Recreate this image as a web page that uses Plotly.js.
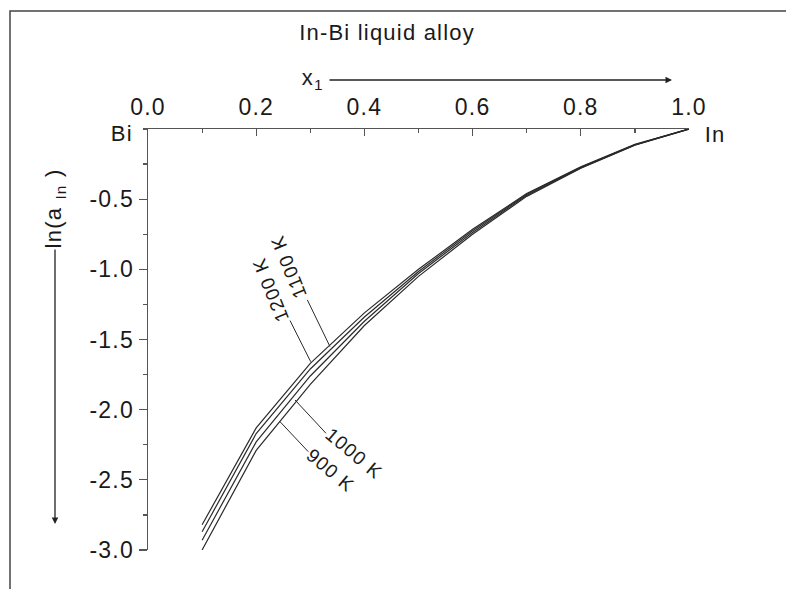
<!DOCTYPE html>
<html>
<head>
<meta charset="utf-8">
<script src="https://cdn.plot.ly/plotly-3.0.1.min.js"></script>
<style>
html,body{margin:0;padding:0;background:#fff;}
#chart{width:786px;height:589px;}
#chart text{letter-spacing:1.2px;}
</style>
</head>
<body>
<div id="chart"></div>
<script>
// Data
var xIn = [0.1, 0.2, 0.3, 0.4, 0.5, 0.6, 0.7, 0.8, 0.9, 1.0];
var lnA_1200K = [-2.82, -2.13, -1.67, -1.31, -1.000, -0.715, -0.460, -0.270, -0.110, 0];
var lnA_1100K = [-2.87, -2.17, -1.71, -1.34, -1.015, -0.725, -0.465, -0.273, -0.112, 0];
var lnA_1000K = [-2.93, -2.23, -1.76, -1.37, -1.030, -0.737, -0.472, -0.277, -0.113, 0];
var lnA_900K  = [-3.00, -2.29, -1.82, -1.40, -1.050, -0.750, -0.480, -0.280, -0.115, 0];
var seriesNames = ['1200 K', '1100 K', '1000 K', '900 K'];
var xTickVals = [0, 0.2, 0.4, 0.6, 0.8, 1.0];
var xTickText = ['0.0', '0.2', '0.4', '0.6', '0.8', '1.0'];
var yTickVals = [-3.0, -2.5, -2.0, -1.5, -1.0, -0.5];
var yTickText = ['-3.0', '-2.5', '-2.0', '-1.5', '-1.0', '-0.5'];
var chartTitle = 'In-Bi liquid alloy';

var FONT = 'Liberation Sans, Arial, sans-serif';
var INK = '#1a1a1a';
var AX = '#555555';

var seriesY = [lnA_1200K, lnA_1100K, lnA_1000K, lnA_900K];
var traces = seriesY.map(function (ys, i) {
  return {
    type: 'scatter', mode: 'lines', name: seriesNames[i],
    x: xIn, y: ys,
    line: {color: '#2a2a2a', width: 1.2},
    hoverinfo: 'skip', showlegend: false, cliponaxis: false
  };
});

// pixel -> paper helpers (plot area: x 148..689, y 129..550)
function px(p) { return (p - 148) / 541; }
function py(p) { return (550 - p) / 421; }

// label annotations + leader lines (data coordinates)
var labelDefs = [
  {t: seriesNames[0], x: 0.227, y: -1.14, ang: -112, lx0: 0.2625, ly0: -1.365, lx1: 0.3007, ly1: -1.658},
  {t: seriesNames[1], x: 0.26, y: -0.98, ang: -112, lx0: 0.2945, ly0: -1.2175, lx1: 0.3364, ly1: -1.5506},
  {t: seriesNames[2], x: 0.381, y: -2.31, ang: 40, lx0: 0.2717, ly0: -1.9308, lx1: 0.329, ly1: -2.1683},
  {t: seriesNames[3], x: 0.338, y: -2.43, ang: 40, lx0: 0.244, ly0: -2.0856, lx1: 0.2963, ly1: -2.2996}
];

var annotations = [
  {text: chartTitle, xref: 'paper', yref: 'paper', x: px(387), y: py(33), showarrow: false,
   xanchor: 'center', yanchor: 'middle', font: {family: FONT, size: 22, color: INK}},
  {text: 'x<sub>1</sub>', xref: 'paper', yref: 'paper', x: px(325), y: py(79), showarrow: false,
   xanchor: 'right', yanchor: 'middle', font: {family: FONT, size: 22, color: INK}},
  {text: '', xref: 'paper', yref: 'paper', x: px(672), y: py(80), ax: -344, ay: 0,
   showarrow: true, arrowhead: 2, arrowsize: 1, arrowwidth: 1.3, arrowcolor: '#222'},
  {text: 'Bi', xref: 'paper', yref: 'paper', x: px(122), y: py(133), showarrow: false,
   xanchor: 'center', yanchor: 'middle', font: {family: FONT, size: 22, color: INK}},
  {text: 'In', xref: 'paper', yref: 'paper', x: px(715), y: py(134), showarrow: false,
   xanchor: 'center', yanchor: 'middle', font: {family: FONT, size: 22, color: INK}},
  {text: 'ln(a <sub>In</sub> )', xref: 'paper', yref: 'paper', x: px(55), y: py(209), showarrow: false,
   textangle: -90, xanchor: 'center', yanchor: 'middle', font: {family: FONT, size: 22, color: INK}},
  {text: '', xref: 'paper', yref: 'paper', x: px(55), y: py(524), ax: 0, ay: -276,
   showarrow: true, arrowhead: 2, arrowsize: 1, arrowwidth: 1.3, arrowcolor: '#222'}
];
var shapes = [
  {type: 'rect', xref: 'paper', yref: 'paper', x0: px(10), x1: px(900), y0: py(700), y1: py(11),
   line: {color: '#444', width: 1.5}, fillcolor: 'rgba(0,0,0,0)', layer: 'below'}
];
labelDefs.forEach(function (d) {
  annotations.push({text: d.t, xref: 'x', yref: 'y', x: d.x, y: d.y, showarrow: false,
    textangle: d.ang, xanchor: 'center', yanchor: 'middle',
    font: {family: FONT, size: 19, color: INK}});
  shapes.push({type: 'line', xref: 'x', yref: 'y', x0: d.lx0, y0: d.ly0, x1: d.lx1, y1: d.ly1,
    line: {color: '#2a2a2a', width: 1}});
});

var layout = {
  width: 786, height: 589,
  margin: {l: 148, r: 97, t: 129, b: 39, pad: 0},
  paper_bgcolor: '#ffffff', plot_bgcolor: '#ffffff',
  showlegend: false,
  xaxis: {
    side: 'top', range: [0, 1], fixedrange: true,
    showline: true, linecolor: AX, linewidth: 1.5,
    showgrid: false, zeroline: false,
    tickmode: 'array', tickvals: xTickVals, ticktext: xTickText,
    ticks: 'inside', ticklen: 7, tickwidth: 1.3, tickcolor: AX,
    ticklabelstandoff: 3,
    minor: {dtick: 0.1, tick0: 0, ticks: 'inside', ticklen: 4, tickwidth: 1.2, tickcolor: AX, showgrid: false},
    tickfont: {family: FONT, size: 23, color: INK}
  },
  yaxis: {
    range: [-3, 0], fixedrange: true,
    showline: true, linecolor: AX, linewidth: 1.5,
    showgrid: false, zeroline: false,
    tickmode: 'array', tickvals: yTickVals, ticktext: yTickText,
    ticks: 'outside', ticklen: 8, tickwidth: 1.3, tickcolor: AX,
    minor: {dtick: 0.25, tick0: 0, ticks: 'outside', ticklen: 4, tickwidth: 1.2, tickcolor: AX, showgrid: false},
    tickfont: {family: FONT, size: 23, color: INK}
  },
  annotations: annotations,
  shapes: shapes
};

Plotly.newPlot('chart', traces, layout, {staticPlot: true, displayModeBar: false});
</script>
</body>
</html>
